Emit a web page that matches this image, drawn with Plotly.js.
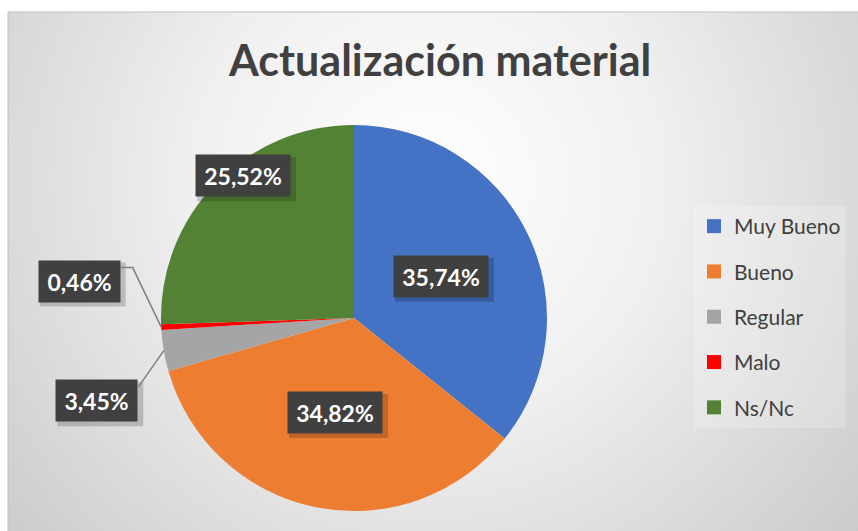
<!DOCTYPE html>
<html>
<head>
<meta charset="utf-8">
<script src="https://cdn.plot.ly/plotly-3.0.1.min.js"></script>
<style>
  body { margin: 0; background: #fff; }
  #chart { width: 858px; height: 531px; }
</style>
</head>
<body>
<div id="chart"></div>
<script>
// data
var categories = ['Muy Bueno', 'Bueno', 'Regular', 'Malo', 'Ns/Nc'];
var percents = [35.74, 34.82, 3.45, 0.46, 25.52];
var colors = ['#4472C4', '#ED7D31', '#A5A5A5', '#FF0000', '#548235'];

// geometry of the pie on the page (px)
var W = 858, H = 531;
var cx = 354, cy = 318, R = 193;
function X(px) { return px / W; }
function Y(py) { return 1 - py / H; }

// how each label is placed: inside (radial fraction, angle tweak) or outside (offset from rim)
var placement = [
    {f: 0.5, da: 0},
    {f: 0.5, da: 0},
    {out: [-67, 50], elbow: 0},
    {out: [-82, -46], elbow: 12},
    {f: 0.935, da: 8}
];

function fmt(v) { return v.toFixed(2).replace('.', ',') + '%'; }

var total = percents.reduce(function (a, b) { return a + b; }, 0);
var annotations = [];
var shapes = [];
var cum = 0;
percents.forEach(function (v, i) {
    var mid = (cum + v / 2) / total * 2 * Math.PI;
    cum += v;
    var p = placement[i];
    var lx, ly;
    var ex = cx + R * Math.sin(mid), ey = cy - R * Math.cos(mid);
    if (p.out) {
        lx = ex + p.out[0];
        ly = ey + p.out[1];
    } else {
        var a = mid + p.da * Math.PI / 180;
        lx = cx + p.f * R * Math.sin(a);
        ly = cy - p.f * R * Math.cos(a);
    }
    var txt = fmt(v);
    var boxW = txt.length * 13 + 18, boxH = 41;
    // soft shadow behind the label box
    shapes.push({type: 'rect', xref: 'paper', yref: 'paper',
        x0: X(lx - boxW / 2 + 2), x1: X(lx + boxW / 2 + 5),
        y0: Y(ly + boxH / 2 + 5), y1: Y(ly - boxH / 2 + 2),
        fillcolor: 'rgba(0,0,0,0.18)', line: {width: 0}});
    annotations.push({
        xref: 'paper', yref: 'paper', x: X(lx), y: Y(ly),
        xanchor: 'center', yanchor: 'middle', showarrow: false,
        text: '<b>' + txt + '</b>', width: boxW - 18, height: boxH - 16, borderpad: 8,
        bgcolor: '#404040',
        font: {family: 'Lato', size: 23, color: '#ffffff'}
    });
    if (p.out) {
        var sx = lx + boxW / 2, sy = ly - 13.5;
        var path = 'M' + X(sx) + ',' + Y(sy) +
            ' L' + X(sx + p.elbow) + ',' + Y(sy) +
            ' L' + X(ex) + ',' + Y(ey);
        shapes.push({type: 'path', xref: 'paper', yref: 'paper', path: path,
            line: {color: '#7f7f7f', width: 1.5}});
    }
});

// chart frame
shapes.push({type: 'rect', xref: 'paper', yref: 'paper', x0: X(8), y0: Y(540), x1: X(860), y1: Y(12),
    line: {color: '#bfbfbf', width: 1}, layer: 'below'});

var bgSvg = '<svg xmlns="http://www.w3.org/2000/svg" width="850" height="519">' +
    '<defs><radialGradient id="g" gradientUnits="userSpaceOnUse" cx="420" cy="170" r="580">' +
    '<stop offset="0" stop-color="#ffffff"/><stop offset="0.4" stop-color="#f0f0f0"/>' +
    '<stop offset="1" stop-color="#c8c8c8"/></radialGradient></defs>' +
    '<rect width="850" height="519" fill="url(#g)"/></svg>';

var pie = {
    type: 'pie',
    labels: categories,
    values: percents,
    sort: false,
    direction: 'clockwise',
    rotation: 0,
    textinfo: 'none',
    hoverinfo: 'label+percent',
    showlegend: false,
    marker: {colors: colors, line: {width: 0}},
    domain: {x: [X(cx - R), X(cx + R)], y: [Y(cy + R), Y(cy - R)]}
};

// legend entries
var legendTraces = categories.map(function (c, i) {
    return {
        type: 'scatter', mode: 'markers', x: [null], y: [null],
        name: c, legendgroup: c,
        marker: {symbol: 'square', size: 14, color: colors[i]},
        hoverinfo: 'skip'
    };
});

var layout = {
    width: W, height: H,
    margin: {l: 0, r: 0, t: 0, b: 0},
    paper_bgcolor: '#ffffff',
    plot_bgcolor: 'rgba(0,0,0,0)',
    title: {
        text: '<b>Actualización material</b>',
        font: {family: 'Lato', size: 43, color: '#404040'},
        x: 0.513, xanchor: 'center', y: Y(61), yanchor: 'middle', yref: 'container'
    },
    xaxis: {visible: false},
    yaxis: {visible: false},
    showlegend: true,
    legend: {
        x: X(694), xanchor: 'left', y: Y(206), yanchor: 'top',
        traceorder: 'grouped', tracegroupgap: 15,
        bgcolor: 'rgba(255,255,255,0.2)',
        font: {family: 'Lato', size: 21, color: '#404040'}
    },
    images: [{
        source: 'data:image/svg+xml;charset=utf-8,' + encodeURIComponent(bgSvg),
        xref: 'paper', yref: 'paper', x: X(8), y: Y(12), sizex: X(858) - X(8), sizey: Y(12) - Y(531),
        xanchor: 'left', yanchor: 'top', sizing: 'stretch', layer: 'below'
    }],
    shapes: shapes,
    annotations: annotations
};

Plotly.newPlot('chart', [pie].concat(legendTraces), layout, {displayModeBar: false});
</script>
</body>
</html>
